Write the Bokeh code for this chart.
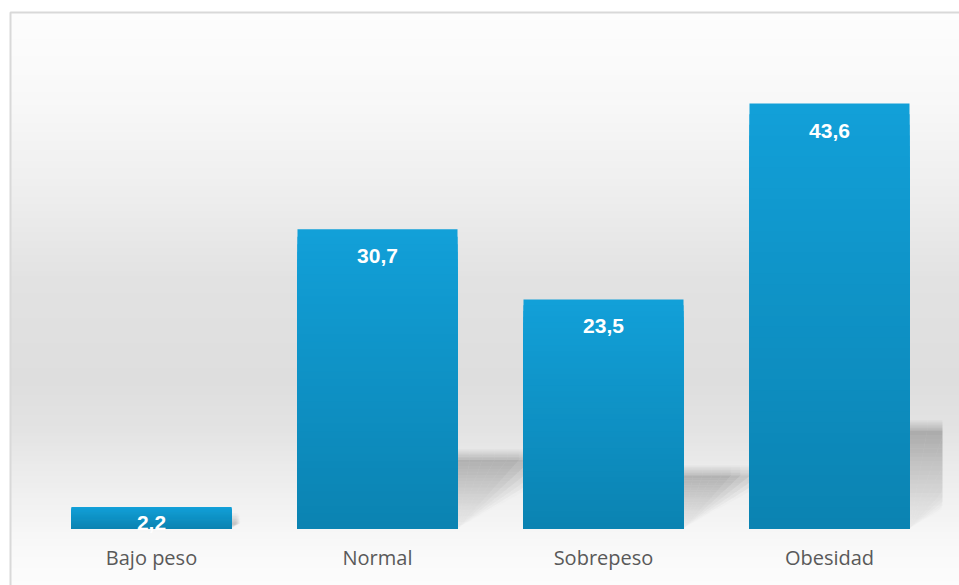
import numpy as np
from bokeh.plotting import figure
from bokeh.models import FixedTicker, ColumnDataSource
from bokeh.core.properties import value
from bokeh.embed import file_html
from bokeh.resources import INLINE

# Distribution of adults by body-mass category (%)
categories = ["Bajo peso", "Normal", "Sobrepeso", "Obesidad"]
values = [2.2, 30.7, 23.5, 43.6]
value_labels = ["2,2", "30,7", "23,5", "43,6"]

# ---- canvas geometry -------------------------------------------------------
W, H = 959, 585
PX_PER_CAT = 226.0      # horizontal pixels per category slot
PX_PER_UNIT = 9.745     # vertical pixels per percentage point
AREA_LEFT_PX = 38.0     # left edge of the category band area
BASE_PX = 528.0         # pixel row of the zero line
BAR_WIDTH = 0.708

X0 = -0.5 - AREA_LEFT_PX / PX_PER_CAT
X1 = X0 + W / PX_PER_CAT
Y1 = BASE_PX / PX_PER_UNIT
Y0 = Y1 - H / PX_PER_UNIT
X_AREA_END = len(categories) - 0.5


def sx(px):
    return X0 + px / PX_PER_CAT


def sy(py):
    return Y1 - py / PX_PER_UNIT


def hexcol(rgb):
    return "#%02x%02x%02x" % tuple(int(round(c)) for c in rgb)


p = figure(width=W, height=H, x_range=(X0, X1), y_range=(Y0, Y1),
           output_backend="svg", toolbar_location=None, min_border=0,
           y_axis_location=None, x_axis_location="below")
p.outline_line_color = None
p.background_fill_color = "white"
p.border_fill_color = "white"
p.grid.visible = False

# ---- chart-area background: soft vertical grey gradient --------------------
grad_stops = [(12, 253), (100, 248), (200, 237), (280, 226), (380, 222),
              (430, 227), (467, 235), (513, 243), (540, 248), (585, 252)]
gpy = np.array([s[0] for s in grad_stops], float)
gval = np.array([s[1] for s in grad_stops], float)
rows = np.arange(12, H + 2, 2.0)
bg = ColumnDataSource(dict(
    top=[sy(r) for r in rows],
    bottom=[sy(r + 3) for r in rows],
    color=[hexcol([np.interp(r + 1, gpy, gval)] * 3) for r in rows],
))
p.quad(left=sx(10), right=X1 + 1, top="top", bottom="bottom",
       fill_color="color", line_color=None, source=bg)

# chart-area frame
p.quad(left=sx(10), right=X1 + 1, top=sy(12), bottom=Y0 - 1,
       fill_color=None, line_color="#d9d9d9", line_width=2)

# ---- cast shadows to the right of every bar --------------------------------
# Each shadow is a wedge whose lower edge rises away from the bar; it is
# built from small cells so that both the top and the slanted edge fade out.
SHADOW_RATIO = 0.23
SLOPE = 0.75 * PX_PER_CAT / PX_PER_UNIT
n_rows, n_cols = 22, 10
u_edges = np.linspace(0.0, 1.35, n_cols + 1)
sh_xs, sh_ys, sh_alpha = [], [], []


def clip(xs):
    return [min(x, X_AREA_END) for x in xs]


for i, v in enumerate(values):
    xr = i + BAR_WIDTH / 2
    ytop = SHADOW_RATIO * v
    for k in range(n_rows):
        y0 = ytop * k / n_rows
        y1 = ytop * (k + 1) / n_rows
        f = (k + 0.5) / n_rows
        base_a = 0.05 + 0.2 * f ** 1.3
        for j in range(n_cols):
            ua, ub = u_edges[j], u_edges[j + 1]
            um = 0.5 * (ua + ub)
            edge = 1.0 if um < 0.65 else max(0.0, 1.0 - (um - 0.65) / 0.7)
            xs = [xr + ua * y0 / SLOPE, xr + ub * y0 / SLOPE,
                  xr + ub * y1 / SLOPE, xr + ua * y1 / SLOPE]
            if min(xs) >= X_AREA_END:
                continue
            sh_xs.append(clip(xs))
            sh_ys.append([y0, y0, y1, y1])
            sh_alpha.append(base_a * edge)
    # feathered upper edge
    feather = 7
    dy = 1.5 / PX_PER_UNIT
    for k in range(feather):
        y0 = ytop + k * dy
        y1 = y0 + dy
        fade = 1 - (k + 1) / (feather + 1)
        for j in range(n_cols):
            ua, ub = u_edges[j], u_edges[j + 1]
            um = 0.5 * (ua + ub)
            edge = 1.0 if um < 0.65 else max(0.0, 1.0 - (um - 0.65) / 0.7)
            xs = [xr + ua * ytop / SLOPE, xr + ub * ytop / SLOPE,
                  xr + ub * ytop / SLOPE, xr + ua * ytop / SLOPE]
            if min(xs) >= X_AREA_END:
                continue
            sh_xs.append(clip(xs))
            sh_ys.append([y0, y0, y1, y1])
            sh_alpha.append(0.22 * fade * edge)

p.patches(xs="xs", ys="ys", fill_color="black", fill_alpha="alpha",
          line_color=None,
          source=ColumnDataSource(dict(xs=sh_xs, ys=sh_ys, alpha=sh_alpha)))

# ---- bars with a vertical blue gradient ------------------------------------
bottom_rgb = np.array([11, 131, 178], float)
top_rgb = np.array([18, 160, 216], float)
n_sl = 40
bx, btop, bcol = [], [], []
for k in reversed(range(n_sl)):
    f = (k + 0.5) / n_sl
    c = hexcol(bottom_rgb + (top_rgb - bottom_rgb) * f)
    for i, v in enumerate(values):
        bx.append(i)
        btop.append(v * (k + 1) / n_sl)
        bcol.append(c)
p.vbar(x="x", top="top", bottom=0, width=BAR_WIDTH, fill_color="color",
       line_color=None, source=ColumnDataSource(dict(x=bx, top=btop, color=bcol)))

# ---- value labels inside the bar ends --------------------------------------
label_y = [v - min(27.0, 0.74 * v * PX_PER_UNIT) / PX_PER_UNIT for v in values]
p.text(x=list(range(len(values))), y=label_y, text=value_labels,
       text_font=value("Liberation Sans"), text_font_style="bold",
       text_font_size="21px", text_color="white",
       text_align="center", text_baseline="middle")

# ---- category axis on the zero line ----------------------------------------
ax = p.xaxis[0]
ax.fixed_location = 0
ax.ticker = FixedTicker(ticks=list(range(len(categories))))
ax.major_label_overrides = {i: c for i, c in enumerate(categories)}
ax.axis_line_color = None
ax.major_tick_line_color = None
ax.minor_tick_line_color = None
ax.major_tick_out = 0
ax.major_label_standoff = 15
ax.major_label_text_font = "Open Sans"
ax.major_label_text_font_size = "20px"
ax.major_label_text_color = "#595959"

open("out.html", "w").write(file_html(p, INLINE))
